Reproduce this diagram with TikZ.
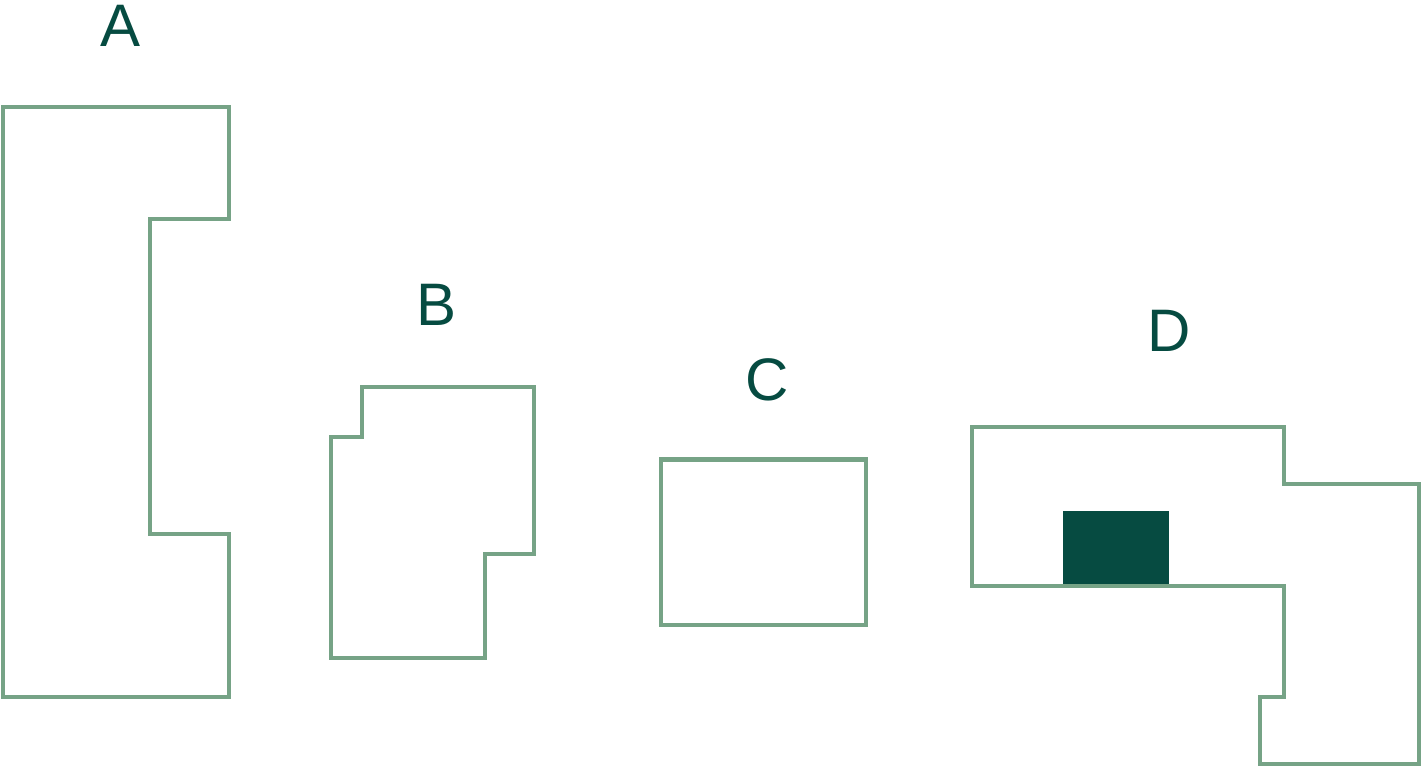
\documentclass[tikz,border=0pt]{standalone}
\usepackage{fontspec}
\setmainfont{Liberation Sans}
\definecolor{wallgreen}{HTML}{76A386}
\definecolor{darkgreen}{HTML}{064B41}
\tikzset{
  outline/.style={draw=wallgreen, line width=4.8pt, line join=miter},
  lbl/.style={text=darkgreen, font=\fontsize{60}{60}\selectfont, inner sep=0pt, anchor=base},
  block/.style={fill=darkgreen, draw=none}
}
\begin{document}
\begin{tikzpicture}[x=1pt,y=-1pt]
\useasboundingbox (0,0) rectangle (1422,767);
% A
\draw[outline] (3,107) -- (229,107) -- (229,219) -- (150,219) -- (150,534) -- (229,534) -- (229,697) -- (3,697) -- cycle;
\node[lbl] (la) at (121,47) {A};
% B
\draw[outline] (362,387) -- (534,387) -- (534,554) -- (485,554) -- (485,658) -- (331,658) -- (331,437) -- (362,437) -- cycle;
\node[lbl] (lb) at (437,326) {B};
% C
\draw[outline] (661,459.5) rectangle (866,625);
\node[lbl] (lc) at (767,400) {C};
% D
\fill[block] (1063,511) rectangle (1169,586);
\draw[outline] (972,427) -- (1284,427) -- (1284,484) -- (1419,484) -- (1419,764) -- (1260,764) -- (1260,697) -- (1284,697) -- (1284,586) -- (972,586) -- cycle;
\node[lbl] (ld) at (1169,352) {D};
\end{tikzpicture}
\end{document}
